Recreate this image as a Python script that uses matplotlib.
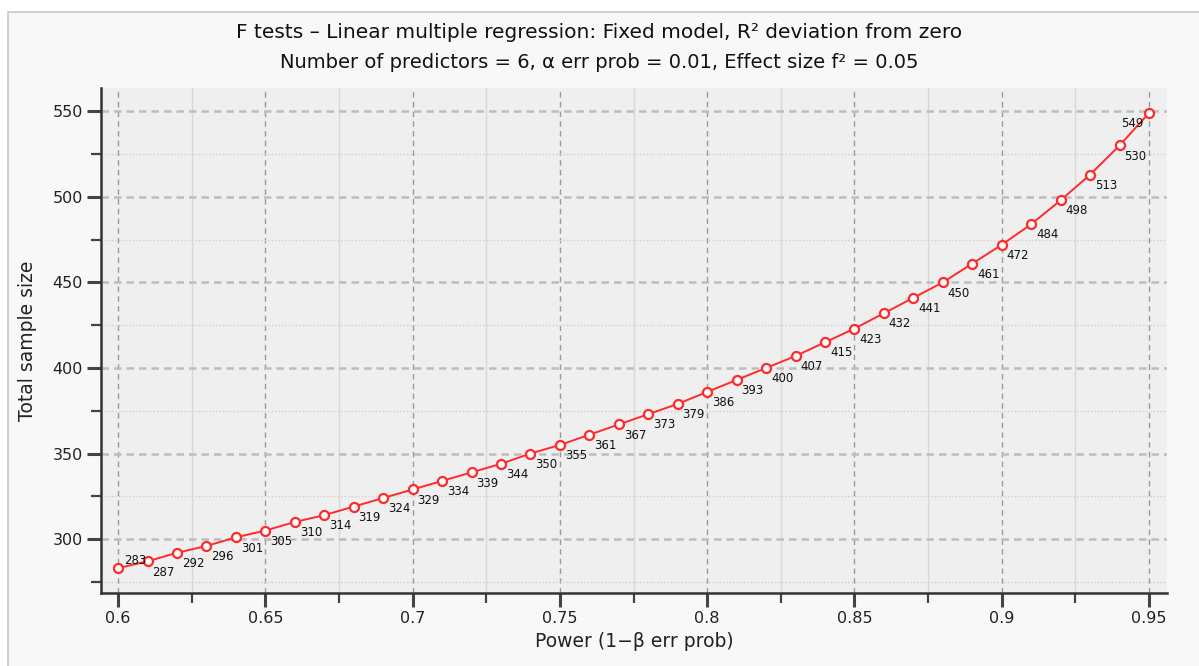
import numpy as np
import matplotlib
matplotlib.use("Agg")
import matplotlib.pyplot as plt
from matplotlib.patches import Rectangle
from matplotlib.ticker import MultipleLocator

plt.rcParams['font.family'] = ['DejaVu Sans']

# power values and required total sample sizes
power = [0.60, 0.61, 0.62, 0.63, 0.64, 0.65, 0.66, 0.67, 0.68, 0.69,
         0.70, 0.71, 0.72, 0.73, 0.74, 0.75, 0.76, 0.77, 0.78, 0.79,
         0.80, 0.81, 0.82, 0.83, 0.84, 0.85, 0.86, 0.87, 0.88, 0.89,
         0.90, 0.91, 0.92, 0.93, 0.94, 0.95]
n_total = [283, 287, 292, 296, 301, 305, 310, 314, 319, 324,
           329, 334, 339, 344, 350, 355, 361, 367, 373, 379,
           386, 393, 400, 407, 415, 423, 432, 441, 450, 461,
           472, 484, 498, 513, 530, 549]
xtick_vals = [0.6, 0.65, 0.7, 0.75, 0.8, 0.85, 0.9, 0.95]
xtick_text = ["0.6", "0.65", "0.7", "0.75", "0.8", "0.85", "0.9", "0.95"]

title1 = "F tests – Linear multiple regression: Fixed model, R² deviation from zero"
title2 = "Number of predictors = 6, α err prob = 0.01, Effect size f² = 0.05"

W, H = 1199, 666
fig = plt.figure(figsize=(W / 100, H / 100), dpi=100)
fig.patch.set_facecolor("white")
fig.patches.append(Rectangle((8 / W, -0.1), 1.2, 1.1 - 12 / H, transform=fig.transFigure,
                             facecolor="#f8f8f8", edgecolor="#c8c8c8", lw=1.2, zorder=-5))

ax = fig.add_axes([101 / W, 1 - 593 / H, (1167 - 101) / W, (593 - 88) / H])
ax.set_zorder(2)
ax.set_facecolor("#efefef")

ax.plot(power, n_total, color="#ff2a2a", lw=1.4, marker="o", ms=6.5,
        mfc="white", mec="#ff2a2a", mew=1.6, zorder=3)

for i, (p, n) in enumerate(zip(power, n_total)):
    if i == 0:
        off, ha, va = (4, 1), "left", "bottom"
    elif i == len(power) - 1:
        off, ha, va = (-4, -3), "right", "top"
    else:
        off, ha, va = (3.5, -3), "left", "top"
    ax.annotate(str(n), (p, n), xytext=off, textcoords="offset points",
                ha=ha, va=va, fontsize=8.5, color="#111111", zorder=4)

ax.set_xlim(0.5942, 0.9561)
ax.set_ylim(268.5, 563.6)
ax.set_xticks(xtick_vals)
ax.set_xticklabels(xtick_text)
ax.xaxis.set_minor_locator(MultipleLocator(0.025))
ax.yaxis.set_major_locator(MultipleLocator(50))
ax.yaxis.set_minor_locator(MultipleLocator(25))

ax.grid(which="major", axis="x", color="#9a9a9a", ls=(0, (4, 3)), lw=1.0)
ax.grid(which="minor", axis="x", color="#d8d8d8", ls="-", lw=1.0)
ax.grid(which="major", axis="y", color="#bdbdbd", ls=(0, (3, 2)), lw=1.8)
ax.grid(which="minor", axis="y", color="#cfcfcf", ls=(0, (1, 1.5)), lw=1.0)
ax.set_axisbelow(True)

for s in ["top", "right"]:
    ax.spines[s].set_visible(False)
for s in ["left", "bottom"]:
    ax.spines[s].set_color("#333333")
    ax.spines[s].set_linewidth(1.8)

ax.tick_params(which="major", direction="out", length=10, width=2.2, color="#444444",
               labelsize=11.5, labelcolor="#222222", pad=3)
ax.tick_params(which="minor", direction="out", length=7, width=1.6, color="#444444")

ax.set_xlabel("Power (1−β err prob)", fontsize=13.5, color="#222222", labelpad=4)
ax.set_ylabel("Total sample size", fontsize=13.5, color="#222222", labelpad=11)

fig.text(0.5, 1 - 32 / H, title1, ha="center", va="center", fontsize=14.5, color="#111111")
fig.text(0.5, 1 - 62 / H, title2, ha="center", va="center", fontsize=14, color="#111111")

fig.savefig("out.png", dpi=100)
